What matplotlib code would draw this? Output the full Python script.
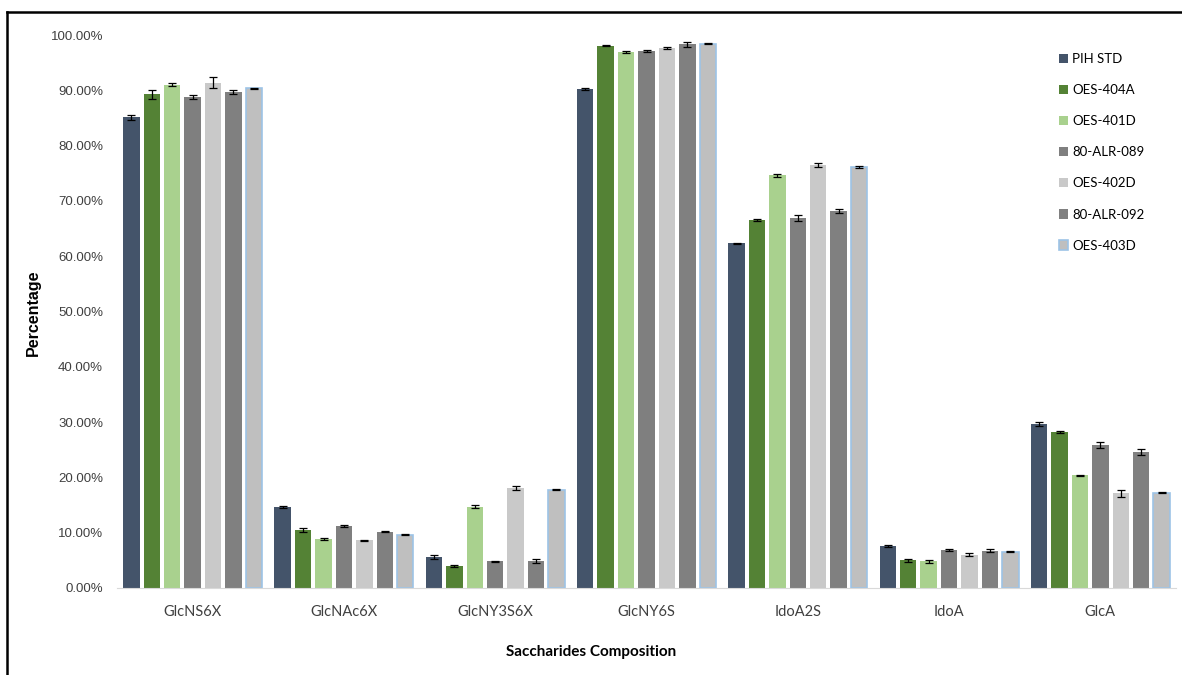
import matplotlib
matplotlib.use("Agg")
import matplotlib.pyplot as plt
from matplotlib.lines import Line2D
import numpy as np

categories = ["GlcNS6X", "GlcNAc6X", "GlcNY3S6X", "GlcNY6S", "IdoA2S", "IdoA", "GlcA"]
samples = ["PIH STD", "OES-404A", "OES-401D", "80-ALR-089", "OES-402D", "80-ALR-092", "OES-403D"]

# mean percentage per sample, one list per saccharide category order above
pih_std = [85.1, 14.7, 5.6, 90.2, 62.3, 7.65, 29.7]
oes_404a = [89.3, 10.5, 4.0, 98.1, 66.5, 5.0, 28.2]
oes_401d = [91.0, 8.9, 14.7, 96.9, 74.6, 4.8, 20.4]
alr_089 = [88.8, 11.2, 4.8, 97.1, 66.9, 6.9, 25.9]
oes_402d = [91.4, 8.6, 18.1, 97.6, 76.5, 6.0, 17.1]
alr_092 = [89.7, 10.2, 4.9, 98.3, 68.2, 6.75, 24.6]
oes_403d = [90.4, 9.6, 17.8, 98.4, 76.1, 6.6, 17.2]

# standard deviations
pih_std_sd = [0.5, 0.15, 0.3, 0.15, 0.1, 0.15, 0.4]
oes_404a_sd = [0.8, 0.4, 0.15, 0.15, 0.15, 0.25, 0.15]
oes_401d_sd = [0.3, 0.15, 0.25, 0.15, 0.3, 0.3, 0.1]
alr_089_sd = [0.3, 0.15, 0.15, 0.1, 0.5, 0.15, 0.5]
oes_402d_sd = [1.0, 0.15, 0.3, 0.15, 0.4, 0.3, 0.6]
alr_092_sd = [0.4, 0.15, 0.3, 0.4, 0.3, 0.25, 0.5]
oes_403d_sd = [0.1, 0.1, 0.15, 0.1, 0.2, 0.1, 0.1]

series = [pih_std, oes_404a, oes_401d, alr_089, oes_402d, alr_092, oes_403d]
errors = [pih_std_sd, oes_404a_sd, oes_401d_sd, alr_089_sd, oes_402d_sd, alr_092_sd, oes_403d_sd]
colors = ["#44546A", "#548235", "#A9D18E", "#7F7F7F", "#C9C9C9", "#808080", "#BFBFBF"]
edges = ["none"] * 6 + ["#9DC3E6"]

W, H = 1182, 675
fig = plt.figure(figsize=(W / 100, H / 100), dpi=100)
ax = fig.add_axes([117 / W, (H - 588) / H, 1059 / W, 553 / H])

x = np.arange(len(categories))
step, bw = 0.135, 0.108
for j, (vals, err) in enumerate(zip(series, errors)):
    ax.bar(x + (j - 3) * step, vals, bw, color=colors[j], edgecolor=edges[j], linewidth=1.2,
           yerr=err, capsize=3, error_kw=dict(ecolor="black", elinewidth=0.9, capthick=0.9),
           label=samples[j], zorder=2)

ax.set_xlim(-0.5, 6.5)
ax.set_ylim(0, 100)
ax.set_yticks(np.arange(0, 101, 10))
ax.set_yticklabels([f"{v:.2f}%" for v in np.arange(0, 101, 10)],
                   fontsize=9.5, family="Liberation Sans", color="#404040")
ax.set_xticks(x)
ax.set_xticklabels(categories, fontsize=10.5, family="Lato", color="#404040")
ax.tick_params(length=0, axis="y", pad=10)
ax.tick_params(length=0, axis="x", pad=12)
for s in ("top", "right", "left"):
    ax.spines[s].set_visible(False)
ax.spines["bottom"].set_color("#D9D9D9")

fig.text(33 / W, 1 - 313 / H, "Percentage", rotation=90, ha="center", va="center",
         fontsize=11.5, fontweight="bold", family="Liberation Sans")
fig.text(591 / W, 1 - 652 / H, "Saccharides Composition", ha="center", va="center",
         fontsize=11, fontweight="bold", family="Lato")

ax.legend(loc="upper left", bbox_to_anchor=(1047 / W, 1 - 41 / H), bbox_transform=fig.transFigure,
          frameon=False, prop={"family": "Lato", "size": 9.5},
          labelspacing=1.45, handlelength=0.7, handleheight=0.7, handletextpad=0.3)

# outer frame (left and top edges)
fig.add_artist(Line2D([7 / W, 7 / W], [0, 1 - 12 / H], color="black", lw=1.8,
                      transform=fig.transFigure))
fig.add_artist(Line2D([7 / W, 1], [1 - 12 / H, 1 - 12 / H], color="black", lw=1.8,
                      transform=fig.transFigure))

fig.savefig("out.png", dpi=100)
